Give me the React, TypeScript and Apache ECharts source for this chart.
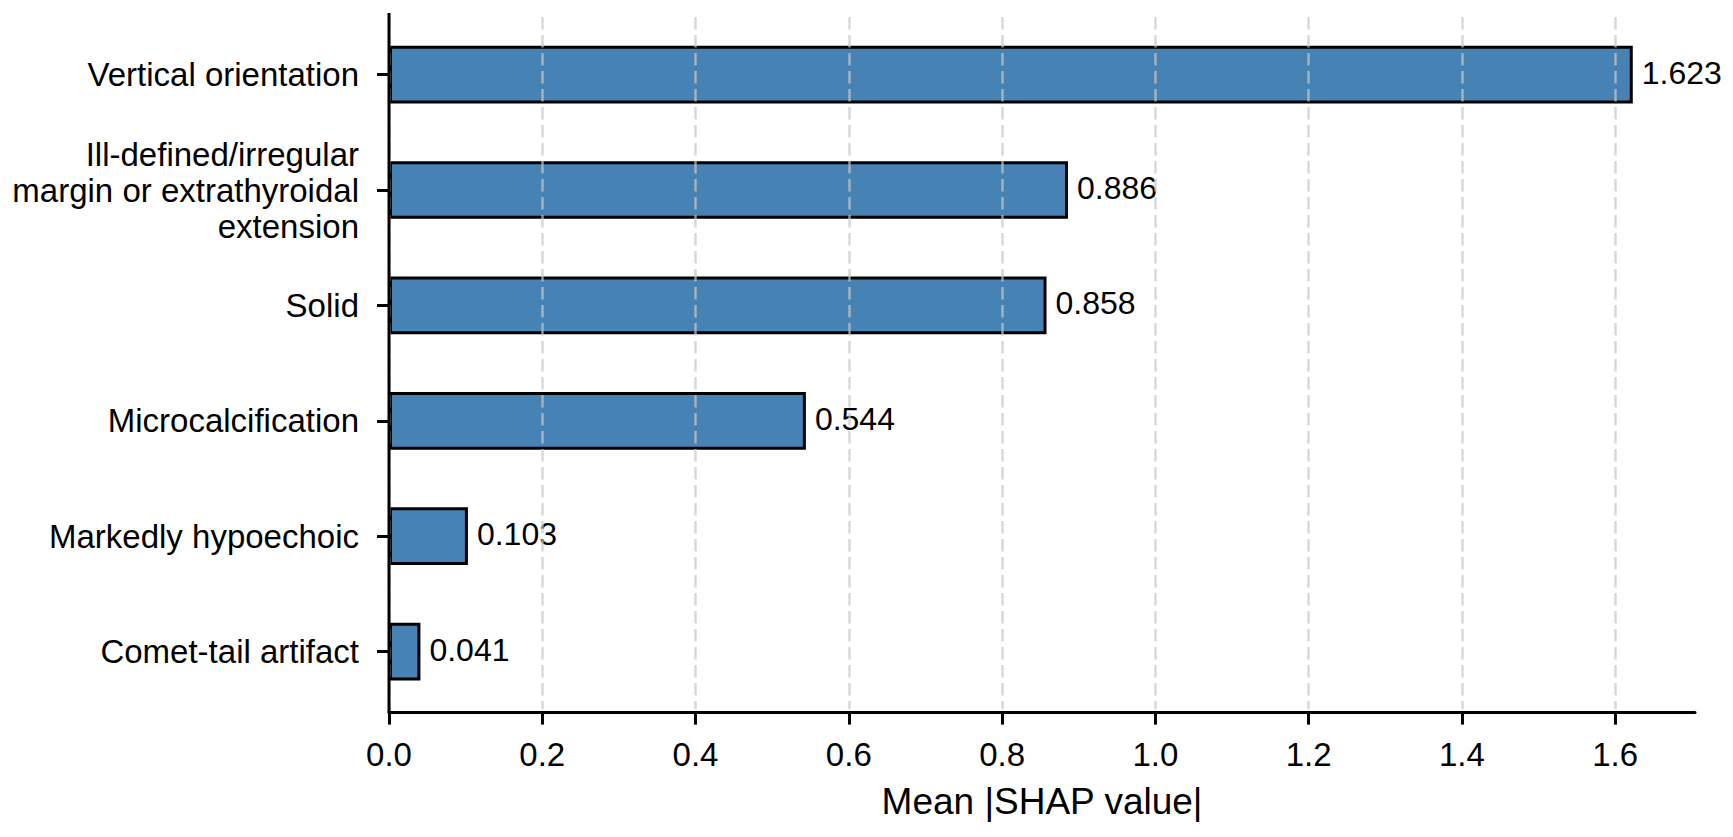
import React, { useEffect, useRef } from "react";
import * as echarts from "echarts";

const categories = [
  "Vertical orientation",
  "Ill-defined/irregular\nmargin or extrathyroidal\nextension",
  "Solid",
  "Microcalcification",
  "Markedly hypoechoic",
  "Comet-tail artifact",
];
const values = [1.623, 0.886, 0.858, 0.544, 0.103, 0.041];
const xTicks = [0, 0.2, 0.4, 0.6, 0.8, 1.0, 1.2, 1.4, 1.6];
const xMax = 1.7042;
const xTitle = "Mean |SHAP value|";

const FONT = "'Liberation Sans', Arial, Helvetica, sans-serif";

export default function App() {
  const ref = useRef<HTMLDivElement>(null);
  useEffect(() => {
    if (!ref.current) return;
    const chart = echarts.init(ref.current, null, { renderer: "svg" });
    const option = {
      animation: false,
      backgroundColor: "#ffffff",
      textStyle: { fontFamily: FONT },
      grid: {
        left: 389,
        right: 38,
        top: 16.9,
        bottom: 127.7,
        containLabel: false,
        outerBoundsMode: "none",
      },
      xAxis: {
        type: "value",
        min: 0,
        max: xMax,
        offset: 3.3,
        z: 10,
        name: xTitle,
        nameLocation: "middle",
        nameGap: 70,
        nameTextStyle: { fontSize: 37, color: "#000", fontFamily: FONT },
        axisLine: { show: true, lineStyle: { color: "#000", width: 3 } },
        axisTick: {
          show: true,
          length: 12,
          lineStyle: { color: "#000", width: 3 },
          customValues: xTicks,
        },
        axisLabel: {
          customValues: xTicks,
          formatter: (v: number) => v.toFixed(1),
          margin: 25,
          fontSize: 33,
          color: "#000",
          fontFamily: FONT,
        },
        splitLine: {
          show: true,
          lineStyle: {
            color: "rgba(200,200,200,0.7)",
            width: 2.5,
            type: [12.5, 5.5],
          },
        },
      },
      yAxis: {
        type: "category",
        inverse: true,
        data: categories,
        axisLine: { show: false },
        axisTick: {
          show: true,
          alignWithLabel: true,
          length: 12,
          lineStyle: { color: "#000", width: 3 },
        },
        axisLabel: {
          margin: 30,
          fontSize: 33,
          lineHeight: 36,
          color: "#000",
          align: "right",
          fontFamily: FONT,
        },
        splitLine: { show: false },
      },
      graphic: [
        {
          type: "line",
          z: 100,
          shape: { x1: 389, y1: 13, x2: 389, y2: 712.6 },
          style: { stroke: "#000", lineWidth: 3 },
        },
      ],
      series: [
        {
          type: "bar",
          data: values,
          barWidth: "50%",
          itemStyle: { color: "#4682B4", borderColor: "#000", borderWidth: 3 },
          label: {
            show: true,
            position: "right",
            distance: 9,
            offset: [0, -2],
            formatter: (p: any) => Number(p.value).toFixed(3),
            fontSize: 32,
            color: "#000",
            fontFamily: FONT,
          },
        },
      ],
    };
    chart.setOption(option as any);
    return () => chart.dispose();
  }, []);
  return (
    <div
      ref={ref}
      style={{ position: "fixed", left: 0, top: 0, width: 1733, height: 837 }}
    />
  );
}
